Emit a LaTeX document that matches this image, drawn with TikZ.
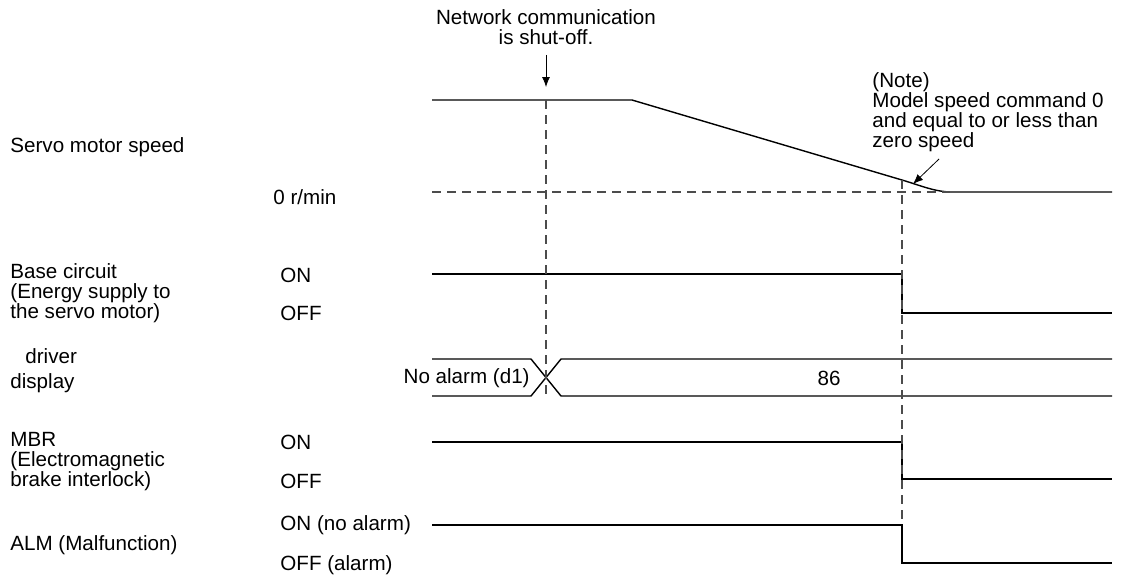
\documentclass[tikz,border=0pt]{standalone}
\usepackage{fontspec}
\setmainfont{Liberation Sans}
\usetikzlibrary{arrows.meta}

\begin{document}
\begin{tikzpicture}[x=0.5pt, y=-0.5pt, >={Latex[length=5pt, width=4pt]},
    every node/.style={inner sep=0pt, font=\fontsize{10.3}{10}\selectfont},
    lbl/.style={anchor=west, align=left},
    sig/.style={line width=0.7pt},
    guide/.style={line width=0.55pt, black!70, dash pattern=on 4.5pt off 3pt}]
    \useasboundingbox (0,0) rectangle (1122,579);
    % signal names and levels
    \node[lbl] (speed) at (10,147) {Servo motor speed};
    \node[lbl] (zero) at (273,197) {0 r/min};
    \node[lbl] (base) at (10,293) {Base circuit\\(Energy supply to\\the servo motor)};
    \node[lbl] (baseon) at (280,275) {ON};
    \node[lbl] (baseoff) at (280,313) {OFF};
    \node[lbl] (drv) at (25,356) {driver};
    \node[lbl] (disp) at (10,383) {display};
    \node[anchor=east] (noalm) at (530,378) {No alarm (d1)};
    \node (code) at (829,378) {86};
    \node[lbl] (mbr) at (10,462) {MBR\\(Electromagnetic\\brake interlock)};
    \node[lbl] (mbron) at (280,442) {ON};
    \node[lbl] (mbroff) at (280,481) {OFF};
    \node[lbl] (almon) at (280,525) {ON (no alarm)};
    \node[lbl] (alm) at (10,545) {ALM (Malfunction)};
    \node[lbl] (almoff) at (280,565) {OFF (alarm)};
    % events
    \node[align=center] (net) at (546,27) {Network communication\\is shut-off.};
    \node[lbl] (note) at (872,112) {(Note)\\Model speed command 0\\and equal to or less than\\zero speed};
    \coordinate (cut) at (546,100);
    \coordinate (netend) at (546,87);
    \coordinate (stop) at (902,180);
    \coordinate (tip) at (913,184);
    \draw[->, shorten <=5pt] (net.south) -- (netend);
    \draw[->] (note.south west) ++(67,7) -- (tip);
    % waveforms
    \draw[sig] (432,100) -- (632,100) -- (stop) .. controls (920,185.3) and (935,192) .. (952,192) -- (1112,192);
    \draw[guide] (432,192) -- (950,192);
    \draw[sig] (432,274) -- (902,274) -- (902,313) -- (1112,313);
    \draw[sig] (432,359) -- (531,359) -- (561,396) -- (1112,396);
    \draw[sig] (432,396) -- (531,396) -- (561,359) -- (1112,359);
    \draw[sig] (432,442) -- (902,442) -- (902,479) -- (1112,479);
    \draw[sig] (432,525) -- (902,525) -- (902,563) -- (1112,563);
    % timing lines
    \draw[guide] (cut) -- (546,398);
    \draw[guide] (stop) -- (902,525);
\end{tikzpicture}
\end{document}
